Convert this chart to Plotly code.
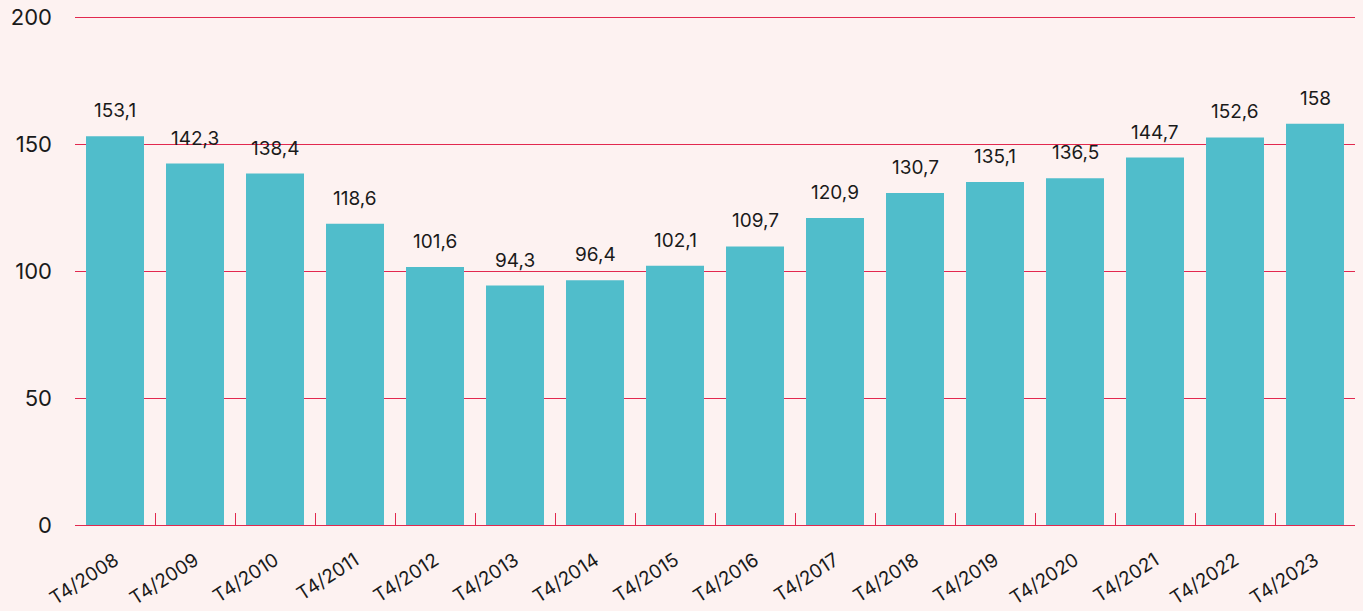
import plotly.graph_objects as go

categories = ["T4/2008", "T4/2009", "T4/2010", "T4/2011", "T4/2012", "T4/2013", "T4/2014", "T4/2015",
              "T4/2016", "T4/2017", "T4/2018", "T4/2019", "T4/2020", "T4/2021", "T4/2022", "T4/2023"]
values = [153.1, 142.3, 138.4, 118.6, 101.6, 94.3, 96.4, 102.1, 109.7, 120.9, 130.7, 135.1, 136.5, 144.7, 152.6, 158]
labels = [f"{v:g}".replace(".", ",") for v in values]
y_ticks = [0, 50, 100, 150, 200]

BG = "#FDF2F1"
RED = "rgb(226,41,79)"
TEAL = "#50BDCB"
FONT = "Inter, Roboto, sans-serif"

fig = go.Figure()
fig.add_trace(go.Bar(x=categories, y=values, marker=dict(color=TEAL, line=dict(width=0)),
                     hoverinfo="x+y"))

for c, v, t in zip(categories, values, labels):
    fig.add_annotation(x=c, y=v, text=t, showarrow=False, yanchor="bottom", yshift=12,
                       font=dict(family=FONT, size=19, color="#1a1a1a"))

fig.update_layout(
    width=1363, height=611,
    paper_bgcolor=BG, plot_bgcolor=BG,
    margin=dict(l=75, r=8, t=12, b=86),
    bargap=0.275,
    showlegend=False,
    font=dict(family=FONT, color="#1a1a1a"),
)
fig.update_xaxes(
    automargin=False,
    showgrid=False, showline=True, linecolor=RED, linewidth=1,
    ticks="inside", tickson="boundaries", ticklen=12, tickcolor=RED, tickwidth=1.2,
    tickangle=-33, ticklabelstandoff=16,
    tickfont=dict(family=FONT, size=19, color="#1a1a1a"),
)
fig.update_yaxes(
    automargin=False,
    range=[0, 202], tickvals=y_ticks, showgrid=True, gridcolor=RED, gridwidth=1.2,
    zeroline=False, showline=False, ticks="", ticklabelstandoff=22,
    tickfont=dict(family=FONT, size=22, color="#1a1a1a"),
)

fig.write_html("out.html", config={"displayModeBar": False},
               post_script="document.body.style.margin='0';document.body.style.background='#FDF2F1';")
